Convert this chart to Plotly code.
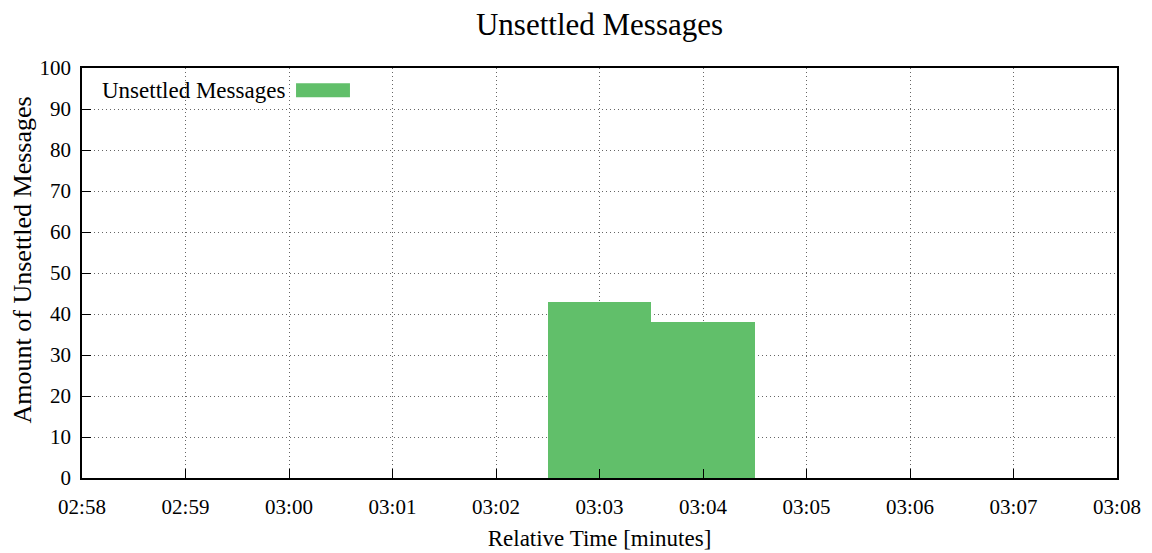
import plotly.graph_objects as go

# ---- data ----
bar_times = ["03:03", "03:04"]
bar_values = [43, 38]
x_tick_labels = ["02:58", "02:59", "03:00", "03:01", "03:02", "03:03",
                 "03:04", "03:05", "03:06", "03:07", "03:08"]
y_ticks = [0, 10, 20, 30, 40, 50, 60, 70, 80, 90, 100]
series_name = "Unsettled Messages"
x_title = "Relative Time [minutes]"
y_title = "Amount of Unsettled Messages"
chart_title = "Unsettled Messages"


def to_num(s):
    a, b = s.split(":")
    return int(a) * 60 + int(b)


x_vals = [to_num(t) for t in bar_times]
x_tick_vals = [to_num(t) for t in x_tick_labels]

FONT = "Liberation Serif"
GREEN = "#61bf6a"
GRID = "#666666"

# page body has an 8px margin -> figure is 1144x545 placed at (8,8)
fig = go.Figure()
fig.add_trace(go.Bar(
    x=x_vals, y=bar_values, width=1, name=series_name,
    marker=dict(color=GREEN, line=dict(width=0)),
    showlegend=False,
))

fig.update_layout(
    template="none",
    width=1144, height=545,
    margin=dict(l=74, r=35, t=60, b=75, pad=0),
    paper_bgcolor="white", plot_bgcolor="white",
    font=dict(family=FONT, size=21, color="black"),
    title=dict(text=chart_title, x=0.5, xref="paper", xanchor="center",
               y=0.97, yref="container", yanchor="middle",
               font=dict(family=FONT, size=31, color="black")),
    bargap=0,
)

fig.update_xaxes(
    automargin=False,
    range=[x_tick_vals[0], x_tick_vals[-1]],
    tickvals=x_tick_vals, ticktext=x_tick_labels,
    showgrid=True, gridcolor=GRID, griddash="1px,3px", gridwidth=1,
    showline=True, linecolor="black", linewidth=1.5, mirror=True,
    ticks="inside", ticklen=9, tickcolor="black", tickwidth=1.2,
    zeroline=False,
    ticklabelstandoff=9,
    title=dict(text=x_title, standoff=12,
               font=dict(family=FONT, size=23, color="black")),
    tickfont=dict(family=FONT, size=21, color="black"),
)
fig.update_yaxes(
    automargin=False,
    range=[0, 100], tickvals=y_ticks,
    showgrid=True, gridcolor=GRID, griddash="1px,3px", gridwidth=1,
    showline=True, linecolor="black", linewidth=1.5, mirror=True,
    ticks="inside", ticklen=9, tickcolor="black", tickwidth=1.2,
    zeroline=False,
    ticklabelstandoff=5,
    tickfont=dict(family=FONT, size=21, color="black"),
)

# y-axis title (gnuplot centres it slightly above the plot centre)
fig.add_annotation(text=y_title, xref="paper", yref="paper",
                   x=-0.0580, y=0.533, xanchor="center", yanchor="middle",
                   textangle=-90, showarrow=False,
                   font=dict(family=FONT, size=26, color="black"))

# gnuplot-style key: text then swatch on the right
fig.add_annotation(text=series_name, xref="paper", yref="paper",
                   x=0.198, y=0.946, xanchor="right", yanchor="middle",
                   showarrow=False, font=dict(family=FONT, size=23, color="black"))
fig.add_shape(type="rect", xref="paper", yref="paper",
              x0=0.2068, x1=0.2589, y0=0.9285, y1=0.9627,
              fillcolor=GREEN, line=dict(width=0))

fig.write_html("out.html")
